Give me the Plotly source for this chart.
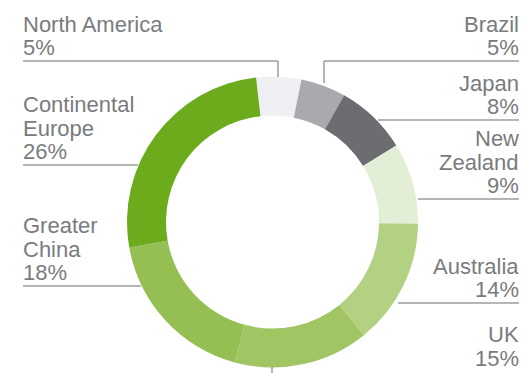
import plotly.graph_objects as go

# ---- data ----
regions = ["North America", "Brazil", "Japan", "New Zealand", "Australia",
           "UK", "Greater China", "Continental Europe"]
shares = [5, 5, 8, 9, 14, 15, 18, 26]
label_lines = [["North America"], ["Brazil"], ["Japan"], ["New", "Zealand"],
               ["Australia"], ["UK"], ["Greater", "China"], ["Continental", "Europe"]]
colors = ["#eff0f4", "#a8aaad", "#6c6d70", "#e3eed6", "#b3d182",
          "#a2c564", "#95bf53", "#6bab1c"]

# ---- layout (pixels in a 522x373 canvas) ----
W, H = 522, 373
cx, cy, r_out = 272.5, 222.0, 145.5
# label placement: (side, x anchor, y of first line centre)
label_pos = {
    "North America": ("left", 21, 24.0),
    "Brazil": ("right", 521, 24.0),
    "Japan": ("right", 521, 83.0),
    "New Zealand": ("right", 521, 138.5),
    "Australia": ("right", 521, 266.0),
    "UK": ("right", 521, 334.5),
    "Greater China": ("left", 21, 225.5),
    "Continental Europe": ("left", 21, 104.5),
}
line_step = 23.5
leaders = [
    [(23, 61), (278, 61), (278, 77)],      # North America
    [(519, 61), (324, 61), (324, 83)],     # Brazil
    [(378, 120), (519, 120)],              # Japan
    [(418, 199), (519, 199)],              # New Zealand
    [(398, 303), (519, 303)],              # Australia
    [(272, 367), (272, 373)],              # UK
    [(23, 286), (141, 286)],               # Greater China
    [(23, 165), (138, 165)],               # Continental Europe
]

def px(x):
    return x / W

def py(y):
    return 1 - y / H

fig = go.Figure(go.Pie(
    labels=regions,
    values=shares,
    sort=False,
    direction="clockwise",
    rotation=-6.5,
    hole=0.732,
    marker=dict(colors=colors, line=dict(width=0)),
    textinfo="none",
    hoverinfo="label+percent",
    showlegend=False,
    domain=dict(x=[(cx - r_out) / W, (cx + r_out) / W],
                y=[(H - cy - r_out) / H, (H - cy + r_out) / H]),
))

annotations = []
for name, val, lines in zip(regions, shares, label_lines):
    side, xa, y0 = label_pos[name]
    all_lines = lines + [f"{val}%"]
    for i, t in enumerate(all_lines):
        annotations.append(dict(
            text=t, x=px(xa), y=py(y0 + i * line_step),
            xref="paper", yref="paper",
            xanchor="left" if side == "left" else "right",
            yanchor="middle", showarrow=False,
            font=dict(family="Liberation Sans, Arial, sans-serif", size=22, color="#7a7b7e"),
        ))

shapes = []
for pts in leaders:
    for (x0, y0), (x1, y1) in zip(pts[:-1], pts[1:]):
        shapes.append(dict(type="line", xref="paper", yref="paper",
                           x0=px(x0), y0=py(y0), x1=px(x1), y1=py(y1),
                           line=dict(color="#9c9da0", width=1.5)))

fig.update_layout(
    width=W, height=H,
    margin=dict(l=0, r=0, t=0, b=0),
    paper_bgcolor="white", plot_bgcolor="white",
    annotations=annotations, shapes=shapes,
)

fig.write_html("out.html")
